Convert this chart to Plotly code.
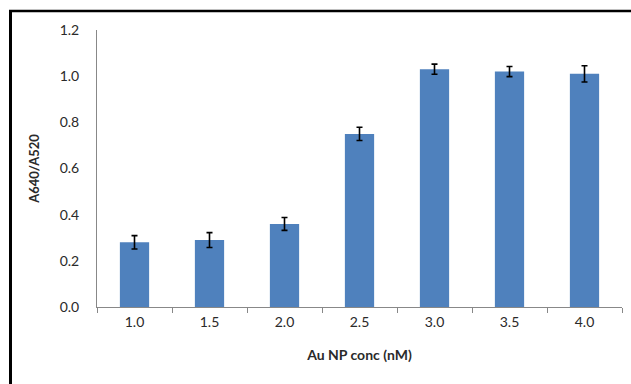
import plotly.graph_objects as go

# Absorbance ratio vs gold nanoparticle concentration
conc_labels = ["1.0", "1.5", "2.0", "2.5", "3.0", "3.5", "4.0"]
ratio = [0.28, 0.29, 0.36, 0.75, 1.03, 1.02, 1.01]
ratio_err = [0.029, 0.032, 0.028, 0.029, 0.022, 0.022, 0.035]
y_ticks = [0.0, 0.2, 0.4, 0.6, 0.8, 1.0, 1.2]

W, H = 631, 384
L, R, T, B = 97, 9, 30, 77
pw, ph = W - L - R, H - T - B

def px_x(x):
    return (x - L) / pw

def px_y(y):
    return 1 - (y - T) / ph

FONT = "Lato, Carlito, Calibri, sans-serif"

fig = go.Figure(
    go.Bar(
        x=conc_labels,
        y=ratio,
        marker=dict(color="#4F81BD", line=dict(width=0)),
        error_y=dict(type="data", array=ratio_err, visible=True,
                     color="black", thickness=1.6, width=3),
        width=0.39,
    )
)

fig.update_layout(
    width=W, height=H,
    margin=dict(l=L, r=R, t=T, b=B),
    paper_bgcolor="white",
    plot_bgcolor="white",
    showlegend=False,
    font=dict(family=FONT, size=14, color="#2a2a2a"),
    xaxis=dict(
        type="category",
        showline=True, linecolor="#888888", linewidth=1,
        ticks="outside", tickson="boundaries", ticklen=5,
        tickcolor="#888888", showgrid=False,
        ticklabelstandoff=2,
        title=dict(text="<b>Au NP conc (nM)</b>", font=dict(size=14), standoff=21),
    ),
    yaxis=dict(
        range=[0, 1.2],
        tickvals=y_ticks,
        ticktext=[f"{v:.1f}" for v in y_ticks],
        showline=True, linecolor="#888888", linewidth=1,
        ticks="", showgrid=False, zeroline=False,
        ticklabelstandoff=14,
        title=dict(text="<b>A640/A520</b>", font=dict(size=13), standoff=17),
    ),
    shapes=[
        # frame around the chart (left and top edges)
        dict(type="line", xref="paper", yref="paper",
             x0=px_x(10.5), x1=px_x(10.5), y0=px_y(10), y1=px_y(H + 5),
             line=dict(color="black", width=3)),
        dict(type="line", xref="paper", yref="paper",
             x0=px_x(9), x1=px_x(W + 5), y0=px_y(11), y1=px_y(11),
             line=dict(color="black", width=2.5)),
    ],
)

fig.write_html("out.html")
